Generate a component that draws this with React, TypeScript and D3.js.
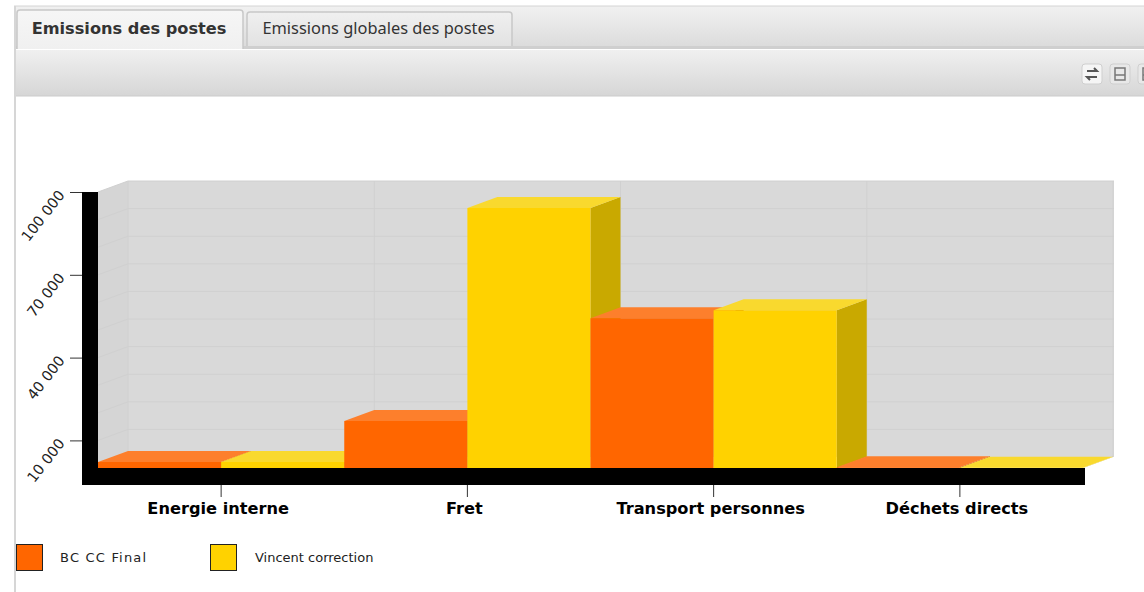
import { useRef, useEffect } from 'react';
import * as d3 from 'd3';

const categories = ['Energie interne', 'Fret', 'Transport personnes', 'Déchets directs'];
const seriesNames = ['BC CC Final', 'Vincent correction'];
const bcFinal = [2200, 17000, 54300, 300];
const vincent = [2200, 94200, 57200, 100];
const yTickValues = [10000, 40000, 70000, 100000];
const gridValues = [10000, 20000, 30000, 40000, 50000, 60000, 70000, 80000, 90000, 100000];
const tabs = ['Emissions des postes', 'Emissions globales des postes'];

const FRONT = ['#ff6600', '#ffd200'];
const TOP = ['#fd7f2c', '#f9d92e'];
const SIDE = ['#c25000', '#c9a900'];
const W = 1144;
const H = 592;

export default function App() {
  const ref = useRef<SVGSVGElement>(null);

  useEffect(() => {
    const svg = d3.select(ref.current);
    svg.selectAll('*').remove();

    const defs = svg.append('defs');
    const grad = (id: string, a: string, b: string) => {
      const g = defs.append('linearGradient').attr('id', id).attr('x1', 0).attr('x2', 0).attr('y1', 0).attr('y2', 1);
      g.append('stop').attr('offset', 0).attr('stop-color', a);
      g.append('stop').attr('offset', 1).attr('stop-color', b);
    };
    grad('bar', '#f1f1f1', '#dcdcdc');
    grad('tool', '#f0f0f0', '#d6d6d6');
    grad('tabOn', '#f6f6f6', '#f0f0f0');
    grad('tabOff', '#f0f0f0', '#e2e2e2');

    // Window chrome
    svg.append('rect').attr('width', W).attr('height', H).attr('fill', '#fff');
    svg.append('rect').attr('x', 14).attr('y', 6).attr('width', W - 14).attr('height', 40).attr('fill', 'url(#bar)');
    svg.append('line').attr('x1', 14).attr('x2', W).attr('y1', 6).attr('y2', 6).attr('stroke', '#d4d4d4');
    svg.append('rect').attr('x', 14).attr('y', 46).attr('width', W - 14).attr('height', 3).attr('fill', '#cfcfcf');
    svg.append('rect').attr('x', 16).attr('y', 50).attr('width', W - 16).attr('height', 46).attr('fill', 'url(#tool)');
    svg.append('line').attr('x1', 16).attr('x2', W).attr('y1', 96).attr('y2', 96).attr('stroke', '#cccccc');
    svg.append('rect').attr('x', 14).attr('y', 6).attr('width', 2).attr('height', H - 6).attr('fill', '#d6d6d6');

    const tabBoxes = [[17, 226], [247, 265]];
    tabs.forEach((t, i) => {
      const [x, w] = tabBoxes[i];
      const y0 = i === 0 ? 10 : 12;
      const y1 = i === 0 ? 49 : 46;
      svg.append('path')
        .attr('d', `M${x},${y1}V${y0 + 3}Q${x},${y0} ${x + 3},${y0}H${x + w - 3}Q${x + w},${y0} ${x + w},${y0 + 3}V${y1}`)
        .attr('fill', i === 0 ? 'url(#tabOn)' : 'url(#tabOff)').attr('stroke', '#c8c8c8').attr('stroke-width', 1.5);
      svg.append('text').attr('x', x + w / 2 - 1).attr('y', 34).attr('text-anchor', 'middle')
        .attr('font-family', i === 0 ? 'DejaVu Sans' : '"Noto Sans"').attr('font-weight', i === 0 ? 700 : 400)
        .attr('font-size', i === 0 ? 16.2 : 16.4).attr('fill', '#333').text(t);
    });

    // Toolbar buttons
    [1082, 1110, 1138].forEach((x, i) => {
      svg.append('rect').attr('x', x).attr('y', 64).attr('width', 20).attr('height', 20).attr('rx', 3)
        .attr('fill', i === 0 ? '#f5f5f5' : '#e8e8e8').attr('stroke', '#cfcfcf');
      if (i === 0) {
        svg.append('path').attr('d', `M${x + 5},71H${x + 15}l-3,-3M${x + 15},77H${x + 5}l3,3`)
          .attr('fill', 'none').attr('stroke', '#555').attr('stroke-width', 2);
      } else {
        svg.append('rect').attr('x', x + 5).attr('y', 68).attr('width', 10).attr('height', 12)
          .attr('fill', 'none').attr('stroke', '#777').attr('stroke-width', 1.5);
        svg.append('line').attr('x1', x + 5).attr('x2', x + 15).attr('y1', 75).attr('y2', 75).attr('stroke', '#777').attr('stroke-width', 1.5);
      }
    });

    // Scales
    const x = d3.scaleBand<string>().domain(categories).range([98, 1083]);
    const xs = d3.scaleBand<string>().domain(seriesNames).range([0, x.bandwidth()]);
    const y = d3.scaleLinear().domain([0, 100000]).range([468, 192]);
    const dx = 30;
    const dy = -11;
    const x0 = x.range()[0];
    const x1 = x.range()[1];
    const y0 = y(0);
    const yTop = y(100000);
    const poly = (pts: [number, number][]) => d3.line()(pts) + 'Z';

    // Walls
    svg.append('path').attr('fill', '#d5d5d5')
      .attr('d', poly([[x0, yTop], [x0 + dx, yTop + dy], [x0 + dx, y0 + dy], [x0, y0]]));
    svg.append('rect').attr('x', x0 + dx).attr('y', yTop + dy).attr('width', x1 - x0 + 1).attr('height', y0 - yTop)
      .attr('fill', '#d9d9d9');
    gridValues.forEach(v => {
      svg.append('path').attr('fill', 'none').attr('stroke', '#d0d0d0')
        .attr('d', d3.line()([[x0, y(v)], [x0 + dx, y(v) + dy], [x1 + dx + 1, y(v) + dy]]));
    });
    [...categories.map(c => x(c)!), x1].forEach(cx => {
      svg.append('line').attr('x1', cx + dx).attr('x2', cx + dx).attr('y1', yTop + dy).attr('y2', y0 + dy)
        .attr('stroke', '#d0d0d0');
    });

    // Bars, left to right so that each front hides the previous side
    categories.forEach((c, ci) => {
      [bcFinal, vincent].forEach((vals, si) => {
        const l = x(c)! + xs(seriesNames[si])!;
        const r = l + xs.bandwidth();
        const t = y(vals[ci]);
        svg.append('path').attr('fill', SIDE[si])
          .attr('d', poly([[r, t], [r + dx, t + dy], [r + dx, y0 + dy], [r, y0]]));
        svg.append('path').attr('fill', TOP[si])
          .attr('d', poly([[l, t], [l + dx, t + dy], [r + dx, t + dy], [r, t]]));
        svg.append('path').attr('fill', FRONT[si])
          .attr('d', poly([[l, t], [r, t], [r, y0], [l, y0]]));
      });
    });

    // Black axis blocks
    svg.append('rect').attr('x', 82).attr('y', yTop).attr('width', x0 - 82).attr('height', y0 - yTop + 17).attr('fill', '#000');
    svg.append('rect').attr('x', 82).attr('y', y0).attr('width', x1 + 2 - 82).attr('height', 17).attr('fill', '#000');

    // Axes
    const fr = d3.formatLocale({ decimal: ',', thousands: ' ', grouping: [3], currency: ['', ''] });
    svg.append('g').attr('transform', 'translate(82,0)')
      .call(d3.axisLeft(y).tickValues(yTickValues).tickFormat(d => fr.format(',d')(+d)).tickSize(12).tickPadding(8))
      .call(s => s.select('.domain').remove())
      .call(s => s.selectAll('line').attr('stroke', '#333'))
      .call(s => s.selectAll('text')
        .attr('font-family', 'DejaVu Sans').attr('font-size', 14.5).attr('fill', '#222')
        .attr('text-anchor', 'end').attr('dy', '0.3em')
        .attr('transform', function (this: any) { return `rotate(-52,${this.getAttribute('x')},0)`; }));

    svg.append('g').attr('transform', `translate(0,${y0 + 17})`)
      .call(d3.axisBottom(x).tickSize(12).tickPadding(5))
      .call(s => s.select('.domain').remove())
      .call(s => s.selectAll('line').attr('stroke', '#333'))
      .call(s => s.selectAll('text')
        .attr('font-family', 'DejaVu Sans').attr('font-weight', 700).attr('font-size', 16.2).attr('fill', '#000')
        .attr('dx', -3));

    // Legend
    const legendX = [16, 210];
    const legendTextX = [60, 255];
    const legendSpacing = [1.2, 0];
    seriesNames.forEach((name, i) => {
      svg.append('rect').attr('x', legendX[i] + 0.5).attr('y', 544.5).attr('width', 26).attr('height', 26)
        .attr('fill', FRONT[i]).attr('stroke', '#222').attr('stroke-width', 1);
      svg.append('text').attr('x', legendTextX[i]).attr('y', 562)
        .attr('font-family', 'DejaVu Sans').attr('font-size', 13).attr('letter-spacing', legendSpacing[i])
        .attr('fill', '#222').text(name);
    });
  }, []);

  return <svg ref={ref} width={W} height={H} style={{ position: 'absolute', left: 0, top: 0, display: 'block' }} />;
}
